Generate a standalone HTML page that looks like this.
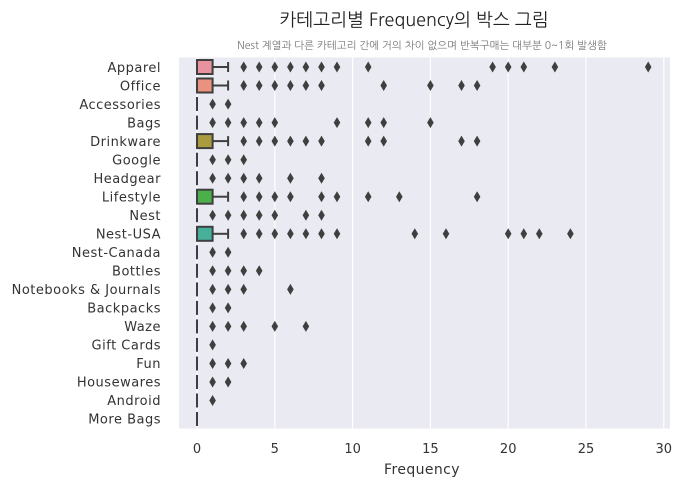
<!DOCTYPE html>
<html><head><meta charset="utf-8"><style>
html,body{margin:0;padding:0;background:#fff;}
svg{display:block;font-family:"DejaVu Sans","NanumGothic","Noto Sans CJK KR",sans-serif;}
</style></head><body>
<svg width="682" height="488" viewBox="0 0 682 488" xmlns="http://www.w3.org/2000/svg">
<defs><path id="d" d="M0,-5.5 L3.3,0 L0,5.5 L-3.3,0 Z" fill="#3f3f3f"/></defs>
<text x="414" y="26" text-anchor="middle" font-size="18" fill="#222" font-family="NanumGothic,'Noto Sans CJK KR',sans-serif">카테고리별 Frequency의 박스 그림</text>
<text x="422" y="49" text-anchor="middle" font-size="10.5" fill="#777" font-family="NanumGothic,'Noto Sans CJK KR',sans-serif">Nest 계열과 다른 카테고리 간에 거의 차이 없으며 반복구매는 대부분 0~1회 발생함</text>
<rect x="179" y="57.5" width="491" height="371" fill="#eaeaf2"/>
<g stroke="#fff" stroke-width="1.2">
<line x1="197" y1="57.5" x2="197" y2="428.5"/><line x1="274.8" y1="57.5" x2="274.8" y2="428.5"/><line x1="352.6" y1="57.5" x2="352.6" y2="428.5"/><line x1="430.4" y1="57.5" x2="430.4" y2="428.5"/><line x1="508.2" y1="57.5" x2="508.2" y2="428.5"/><line x1="586" y1="57.5" x2="586" y2="428.5"/><line x1="663.8" y1="57.5" x2="663.8" y2="428.5"/>
</g>
<g font-size="13" fill="#333" text-anchor="end" letter-spacing="0.5">
<text x="161" y="72">Apparel</text><text x="161" y="90.5">Office</text><text x="161" y="109">Accessories</text><text x="161" y="127.5">Bags</text><text x="161" y="146">Drinkware</text><text x="161" y="164.5">Google</text><text x="161" y="183">Headgear</text><text x="161" y="201.5">Lifestyle</text><text x="161" y="220">Nest</text><text x="161" y="238.5">Nest-USA</text><text x="161" y="257">Nest-Canada</text><text x="161" y="275.5">Bottles</text><text x="161" y="294">Notebooks &amp; Journals</text><text x="161" y="312.5">Backpacks</text><text x="161" y="331">Waze</text><text x="161" y="349.5">Gift Cards</text><text x="161" y="368">Fun</text><text x="161" y="386.5">Housewares</text><text x="161" y="405">Android</text><text x="161" y="423.5">More Bags</text>
</g>
<g font-size="13" fill="#333" text-anchor="middle">
<text x="197" y="453">0</text><text x="274.8" y="453">5</text><text x="352.6" y="453">10</text><text x="430.4" y="453">15</text><text x="508.2" y="453">20</text><text x="586" y="453">25</text><text x="663.8" y="453">30</text>
<text x="422" y="474" font-size="14" letter-spacing="0.4">Frequency</text>
</g>
<g stroke="#3f3f3f" stroke-width="2">
<rect x="197" y="60" width="15.6" height="14" fill="#e8919f"/><line x1="212.6" y1="67" x2="228.1" y2="67"/><line x1="228.1" y1="62" x2="228.1" y2="72"/>
<rect x="197" y="78.5" width="15.6" height="14" fill="#e8927f"/><line x1="212.6" y1="85.5" x2="228.1" y2="85.5"/><line x1="228.1" y1="80.5" x2="228.1" y2="90.5"/>
<rect x="197" y="134.1" width="15.6" height="14" fill="#a89c3e"/><line x1="212.6" y1="141.1" x2="228.1" y2="141.1"/><line x1="228.1" y1="136.1" x2="228.1" y2="146.1"/>
<rect x="197" y="189.7" width="15.6" height="14" fill="#4bb04a"/><line x1="212.6" y1="196.7" x2="228.1" y2="196.7"/><line x1="228.1" y1="191.7" x2="228.1" y2="201.7"/>
<rect x="197" y="226.8" width="15.6" height="14" fill="#47b09a"/><line x1="212.6" y1="233.8" x2="228.1" y2="233.8"/><line x1="228.1" y1="228.8" x2="228.1" y2="238.8"/>
<line x1="197" y1="97" x2="197" y2="111"/><line x1="197" y1="115.6" x2="197" y2="129.6"/><line x1="197" y1="152.7" x2="197" y2="166.7"/><line x1="197" y1="171.2" x2="197" y2="185.2"/><line x1="197" y1="208.2" x2="197" y2="222.2"/><line x1="197" y1="245.3" x2="197" y2="259.3"/><line x1="197" y1="263.8" x2="197" y2="277.8"/><line x1="197" y1="282.4" x2="197" y2="296.4"/><line x1="197" y1="300.9" x2="197" y2="314.9"/><line x1="197" y1="319.4" x2="197" y2="333.4"/><line x1="197" y1="337.9" x2="197" y2="351.9"/><line x1="197" y1="356.5" x2="197" y2="370.5"/><line x1="197" y1="375" x2="197" y2="389"/><line x1="197" y1="393.5" x2="197" y2="407.5"/><line x1="197" y1="412" x2="197" y2="426"/>
</g>
<g>
<use href="#d" x="243.7" y="67"/><use href="#d" x="259.2" y="67"/><use href="#d" x="274.8" y="67"/><use href="#d" x="290.4" y="67"/><use href="#d" x="305.9" y="67"/><use href="#d" x="321.5" y="67"/><use href="#d" x="337" y="67"/><use href="#d" x="368.2" y="67"/><use href="#d" x="492.6" y="67"/><use href="#d" x="508.2" y="67"/><use href="#d" x="523.8" y="67"/><use href="#d" x="554.9" y="67"/><use href="#d" x="648.2" y="67"/>
<use href="#d" x="243.7" y="85.5"/><use href="#d" x="259.2" y="85.5"/><use href="#d" x="274.8" y="85.5"/><use href="#d" x="290.4" y="85.5"/><use href="#d" x="305.9" y="85.5"/><use href="#d" x="321.5" y="85.5"/><use href="#d" x="383.7" y="85.5"/><use href="#d" x="430.4" y="85.5"/><use href="#d" x="461.5" y="85.5"/><use href="#d" x="477.1" y="85.5"/>
<use href="#d" x="212.6" y="104.1"/><use href="#d" x="228.1" y="104.1"/>
<use href="#d" x="212.6" y="122.6"/><use href="#d" x="228.1" y="122.6"/><use href="#d" x="243.7" y="122.6"/><use href="#d" x="259.2" y="122.6"/><use href="#d" x="274.8" y="122.6"/><use href="#d" x="337" y="122.6"/><use href="#d" x="368.2" y="122.6"/><use href="#d" x="383.7" y="122.6"/><use href="#d" x="430.4" y="122.6"/>
<use href="#d" x="243.7" y="141.1"/><use href="#d" x="259.2" y="141.1"/><use href="#d" x="274.8" y="141.1"/><use href="#d" x="290.4" y="141.1"/><use href="#d" x="305.9" y="141.1"/><use href="#d" x="321.5" y="141.1"/><use href="#d" x="368.2" y="141.1"/><use href="#d" x="383.7" y="141.1"/><use href="#d" x="461.5" y="141.1"/><use href="#d" x="477.1" y="141.1"/>
<use href="#d" x="212.6" y="159.7"/><use href="#d" x="228.1" y="159.7"/><use href="#d" x="243.7" y="159.7"/>
<use href="#d" x="212.6" y="178.2"/><use href="#d" x="228.1" y="178.2"/><use href="#d" x="243.7" y="178.2"/><use href="#d" x="259.2" y="178.2"/><use href="#d" x="290.4" y="178.2"/><use href="#d" x="321.5" y="178.2"/>
<use href="#d" x="243.7" y="196.7"/><use href="#d" x="259.2" y="196.7"/><use href="#d" x="274.8" y="196.7"/><use href="#d" x="290.4" y="196.7"/><use href="#d" x="321.5" y="196.7"/><use href="#d" x="337" y="196.7"/><use href="#d" x="368.2" y="196.7"/><use href="#d" x="399.3" y="196.7"/><use href="#d" x="477.1" y="196.7"/>
<use href="#d" x="212.6" y="215.2"/><use href="#d" x="228.1" y="215.2"/><use href="#d" x="243.7" y="215.2"/><use href="#d" x="259.2" y="215.2"/><use href="#d" x="274.8" y="215.2"/><use href="#d" x="305.9" y="215.2"/><use href="#d" x="321.5" y="215.2"/>
<use href="#d" x="243.7" y="233.8"/><use href="#d" x="259.2" y="233.8"/><use href="#d" x="274.8" y="233.8"/><use href="#d" x="290.4" y="233.8"/><use href="#d" x="305.9" y="233.8"/><use href="#d" x="321.5" y="233.8"/><use href="#d" x="337" y="233.8"/><use href="#d" x="414.8" y="233.8"/><use href="#d" x="446" y="233.8"/><use href="#d" x="508.2" y="233.8"/><use href="#d" x="523.8" y="233.8"/><use href="#d" x="539.3" y="233.8"/><use href="#d" x="570.4" y="233.8"/>
<use href="#d" x="212.6" y="252.3"/><use href="#d" x="228.1" y="252.3"/>
<use href="#d" x="212.6" y="270.8"/><use href="#d" x="228.1" y="270.8"/><use href="#d" x="243.7" y="270.8"/><use href="#d" x="259.2" y="270.8"/>
<use href="#d" x="212.6" y="289.4"/><use href="#d" x="228.1" y="289.4"/><use href="#d" x="243.7" y="289.4"/><use href="#d" x="290.4" y="289.4"/>
<use href="#d" x="212.6" y="307.9"/><use href="#d" x="228.1" y="307.9"/>
<use href="#d" x="212.6" y="326.4"/><use href="#d" x="228.1" y="326.4"/><use href="#d" x="243.7" y="326.4"/><use href="#d" x="274.8" y="326.4"/><use href="#d" x="305.9" y="326.4"/>
<use href="#d" x="212.6" y="344.9"/>
<use href="#d" x="212.6" y="363.5"/><use href="#d" x="228.1" y="363.5"/><use href="#d" x="243.7" y="363.5"/>
<use href="#d" x="212.6" y="382"/><use href="#d" x="228.1" y="382"/>
<use href="#d" x="212.6" y="400.5"/>
</g>
</svg>
</body></html>
